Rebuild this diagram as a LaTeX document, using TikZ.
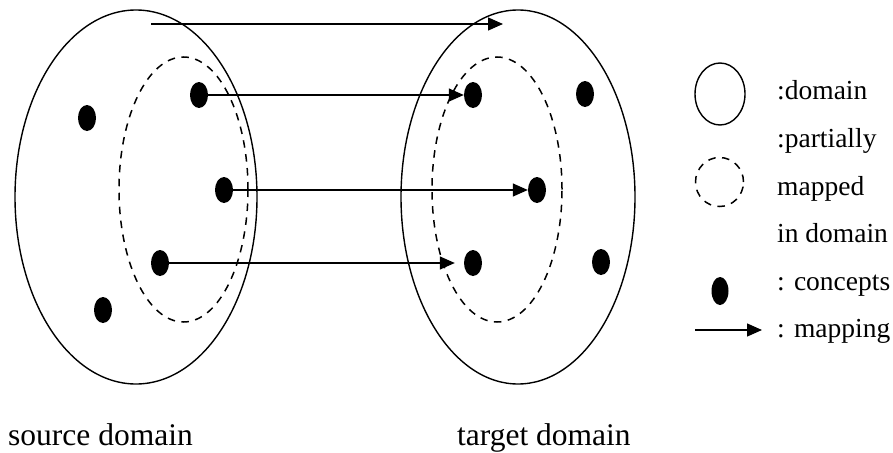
\documentclass[tikz,border=0pt]{standalone}
\usepackage{fontspec}
\setmainfont{Liberation Serif}
\usetikzlibrary{positioning}
\usetikzlibrary{shapes.geometric, arrows.meta}

\tikzset{
  domainring/.style={draw, ellipse, line width=1.4pt, inner sep=0pt},
  partring/.style={domainring, line width=1.5pt, dash pattern=on 7.5pt off 6.5pt},
  concept/.style={ellipse, fill=black, minimum width=18pt, minimum height=26pt, inner sep=0pt},
  maparrow/.style={-{Triangle[length=15pt,width=13pt]}, line width=1.3pt},
  domname/.style={anchor=base west, inner sep=0pt, font=\fontsize{31.5}{36}\selectfont},
  legendtext/.style={anchor=base west, inner sep=0pt, font=\fontsize{27.5}{32}\selectfont}
}

\begin{document}
\begin{tikzpicture}[x=1pt, y=-1pt]
    \useasboundingbox (0,0) rectangle (893,452);

    % domains
    \node[domainring, minimum width=242pt, minimum height=374pt] (srcdom) at (136,197) {};
    \node[partring, minimum width=129pt, minimum height=265pt] (srcpart) at (183.5,189.5) {};
    \node[domainring, minimum width=234pt, minimum height=374pt] (tgtdom) at (518,197) {};
    \node[partring, minimum width=130pt, minimum height=265pt] (tgtpart) at (497,189.5) {};

    % concepts in the source domain
    \node[concept] (s1) at (199,95) {};
    \node[concept] (s2) at (87,118) {};
    \node[concept] (s3) at (224,190) {};
    \node[concept] (s4) at (160,263) {};
    \node[concept] (s5) at (103,310) {};

    % concepts in the target domain
    \node[concept] (t1) at (473,95) {};
    \node[concept] (t2) at (585,94) {};
    \node[concept] (t3) at (537,190) {};
    \node[concept] (t4) at (473,263) {};
    \node[concept] (t5) at (601,262) {};

    % mappings
    \coordinate (topsrc) at (151,24);
    \coordinate (toptgt) at (503,24);
    \draw[maparrow] (topsrc) -- (toptgt);
    \draw[maparrow] (s1) -- (t1);
    \draw[maparrow] (s3) -- (t3);
    \draw[maparrow, shorten >=9pt] (s4) -- (t4);

    % names
    \node[domname] (srcname) at (8,445) {source domain};
    \node[domname] (tgtname) at (457,445) {target domain};

    % legend
    \node[domainring, minimum width=50pt, minimum height=62pt] (legdom) at (720,94) {};
    \node[partring, minimum width=48pt, minimum height=49pt] (legpart) at (719.5,182) {};
    \node[concept, minimum width=17pt, minimum height=28pt] (legconcept) at (720,291) {};
    \coordinate (legsrc) at (695,330);
    \coordinate (legtgt) at (762,330);
    \draw[maparrow] (legsrc) -- (legtgt);

    \node[legendtext] (legdomtext) at (777,99) {:domain};
    \node[legendtext] (legparttext1) at (777,147) {:partially};
    \node[legendtext] (legparttext2) at (777,195) {mapped};
    \node[legendtext] (legparttext3) at (777,242) {in domain};
    \node[legendtext] (legconcepttext) at (777,290) {: concepts};
    \node[legendtext] (legmaptext) at (777,337) {: mapping};
\end{tikzpicture}
\end{document}
